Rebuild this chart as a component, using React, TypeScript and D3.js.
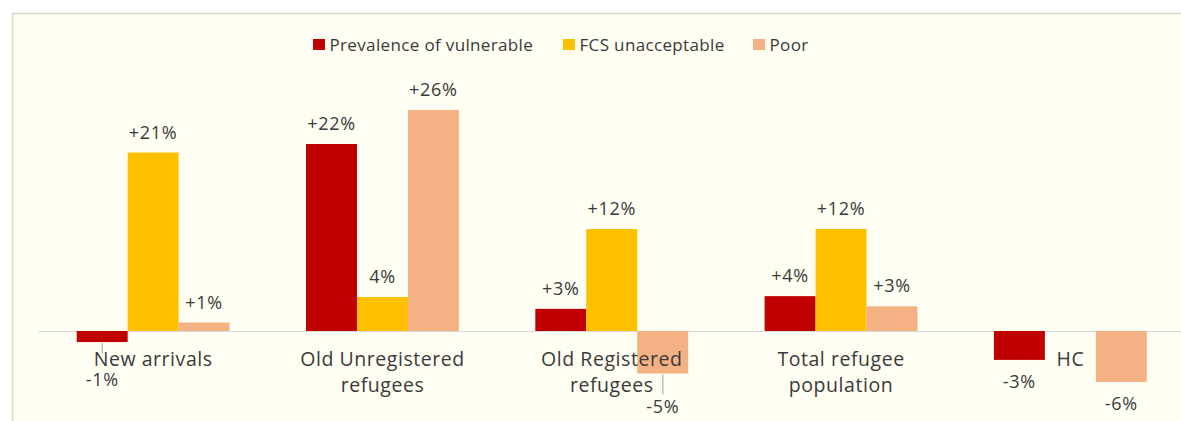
import React from "react";
import * as d3 from "d3";

const categories = [
  "New arrivals",
  "Old Unregistered refugees",
  "Old Registered refugees",
  "Total refugee population",
  "HC",
];
const categoryLines = [
  ["New arrivals"],
  ["Old Unregistered", "refugees"],
  ["Old Registered", "refugees"],
  ["Total refugee", "population"],
  ["HC"],
];
const seriesNames = ["Prevalence of vulnerable", "FCS unacceptable", "Poor"];
const prevalence = [-1.3, 22, 2.6, 4.1, -3.4];
const fcsUnacceptable = [21, 4, 12, 12, 0];
const poor = [1, 26, -5, 2.9, -6];
const prevalenceLabels = ["-1%", "+22%", "+3%", "+4%", "-3%"];
const fcsLabels = ["+21%", "4%", "+12%", "+12%", ""];
const poorLabels = ["+1%", "+26%", "-5%", "+3%", "-6%"];

const colors = ["#C00000", "#FFC000", "#F4B183"];
const textColor = "#3a3a3a";
const FONT = "'Open Sans', 'Noto Sans', sans-serif";

// label displacement (px below bar bottom) and leader-line length for dragged labels
const leaderLayout: Record<string, { drop: number; line: number }> = {
  "0|0": { drop: 44, line: 11 },
  "2|2": { drop: 39, line: 20 },
};

export default function App() {
  const W = 1181;
  const H = 421;
  const x0 = d3
    .scaleBand<string>()
    .domain(categories)
    .range([38.5, 1185])
    .paddingInner(1 / 3)
    .paddingOuter(1 / 6);
  const x1 = d3
    .scaleBand<string>()
    .domain(seriesNames)
    .range([0, x0.bandwidth()]);
  const y = d3.scaleLinear().domain([-8, 28]).range([399, 93]);
  const y0 = y(0);

  const values = [prevalence, fcsUnacceptable, poor];
  const labels = [prevalenceLabels, fcsLabels, poorLabels];

  const legendX = [313, 563, 753];

  return (
    <svg
      width={W}
      height={H}
      style={{ position: "absolute", left: 0, top: 0, background: "#ffffff" }}
      fontFamily={FONT}
    >
      <rect x={12.5} y={13.5} width={W} height={H} fill="#FFFEF2" stroke="#d6d6cc" strokeWidth={1.5} />
      {/* legend */}
      {seriesNames.map((s, i) => (
        <g key={s} transform={`translate(${legendX[i]},0)`}>
          <rect x={0} y={39} width={12} height={11} fill={colors[i]} />
          <text x={16.5} y={50.5} fontSize={17} letterSpacing={0.35} fill={textColor}>
            {s}
          </text>
        </g>
      ))}
      {/* zero axis */}
      <line x1={38} x2={W} y1={y0 + 0.5} y2={y0 + 0.5} stroke="#d9d9d9" strokeWidth={1} />
      {/* bars */}
      {categories.map((c, ci) => (
        <g key={c} transform={`translate(${x0(c)},0)`}>
          {seriesNames.map((s, si) => {
            const v = values[si][ci];
            if (v === 0) return null;
            const bx = x1(s)!;
            const top = Math.min(y(v), y0);
            const h = Math.abs(y(v) - y0);
            const cx = bx + x1.bandwidth() / 2;
            const lab = labels[si][ci];
            const key = `${ci}|${si}`;
            const lead = leaderLayout[key];
            let ly: number;
            if (v >= 0) ly = y(v) - 14;
            else if (lead) ly = y(v) + lead.drop;
            else ly = y(v) + 28;
            return (
              <g key={s}>
                <rect x={bx} y={top} width={x1.bandwidth()} height={h} fill={colors[si]} />
                {lead && (
                  <line
                    x1={cx}
                    x2={cx}
                    y1={y(v) + 1}
                    y2={y(v) + 1 + lead.line}
                    stroke="#bfbfbf"
                    strokeWidth={1.5}
                  />
                )}
                <text x={cx} y={ly} textAnchor="middle" fontSize={18} letterSpacing={0.7} fill={textColor}>
                  {lab}
                </text>
              </g>
            );
          })}
          {categoryLines[ci].map((line, li) => (
            <text
              key={li}
              x={x0.bandwidth() / 2}
              y={366 + li * 25.5}
              textAnchor="middle"
              fontSize={19.5}
              letterSpacing={0.55}
              fill={textColor}
            >
              {line}
            </text>
          ))}
        </g>
      ))}
    </svg>
  );
}
